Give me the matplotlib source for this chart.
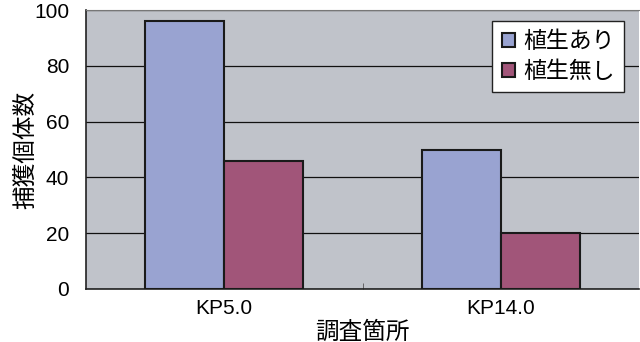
import matplotlib
matplotlib.use("Agg")
import matplotlib.pyplot as plt
import numpy as np

categories = ["KP5.0", "KP14.0"]
series_names = ["植生あり", "植生無し"]
with_veg = [96, 50]
without_veg = [46, 20]
yticks = [0, 20, 40, 60, 80, 100]

colors = ["#99A3D1", "#A15579"]
bg = "#C0C3CA"

plt.rcParams['font.family'] = ['Liberation Sans', 'Noto Sans CJK JP']
jp = ['Noto Sans CJK JP', 'DejaVu Sans']

fig = plt.figure(figsize=(6.4, 3.42), dpi=100)
ax = fig.add_axes([86/640, 1-289/342, (639-86)/640, (289-10)/342])
ax.set_facecolor(bg)

x = np.arange(len(categories))
w = 0.285
ax.bar(x - w/2, with_veg, w, color=colors[0], edgecolor="#1a1a1a", linewidth=1.5, label=series_names[0], zorder=3)
ax.bar(x + w/2, without_veg, w, color=colors[1], edgecolor="#1a1a1a", linewidth=1.5, label=series_names[1], zorder=3)

ax.set_xlim(-0.5, 1.5)
ax.set_ylim(0, 100)
ax.set_yticks(yticks)
ax.set_yticklabels([str(v) for v in yticks], fontsize=15)
ax.yaxis.grid(True, color="#111111", linewidth=0.9, zorder=1)
ax.set_axisbelow(True)

ax.set_xticks(x)
ax.set_xticklabels(categories, fontsize=15)
ax.tick_params(axis='x', length=0, pad=7)
ax.tick_params(axis='y', length=0, pad=12)
ax.set_xticks([0.5], minor=True)
ax.tick_params(axis='x', which='minor', direction='in', length=4, color="#555555")

for s in ['left', 'bottom']:
    ax.spines[s].set_color("#222222")
    ax.spines[s].set_linewidth(1.2)
ax.spines['top'].set_color("#777777")
ax.spines['top'].set_linewidth(0.8)
ax.spines['right'].set_visible(False)

ax.set_ylabel("捕獲個体数", fontsize=17, family=jp)
ax.yaxis.set_label_coords((37-86)/553, 0.5)
ax.set_xlabel("調査箇所", fontsize=17, family=jp, labelpad=2)

leg = ax.legend(loc='upper right', bbox_to_anchor=((624-86)/553, (289-21)/279),
                prop={'family': jp, 'size': 16.5}, frameon=True, fancybox=False,
                edgecolor="#222222", framealpha=1, handlelength=0.6, handleheight=0.6,
                handletextpad=0.35, borderpad=0.4, labelspacing=0.3, borderaxespad=0)
leg.get_frame().set_linewidth(1.0)
for h in leg.legend_handles:
    h.set_linewidth(1.5)

fig.savefig("out.png", dpi=100, facecolor="white")
